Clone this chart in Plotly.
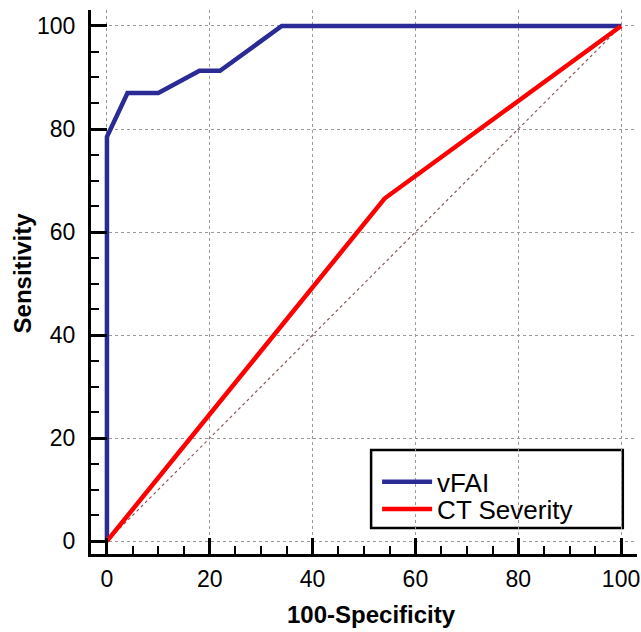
import plotly.graph_objects as go

# Data
vfai_x = [0, 0, 4, 10, 18, 22, 34, 100]
vfai_y = [0, 78.5, 87.0, 87.0, 91.3, 91.3, 100, 100]
ct_x = [0, 54, 100]
ct_y = [0, 66.5, 100]
ref_x = [0, 100]
ref_y = [0, 100]
ticks = [0, 20, 40, 60, 80, 100]
x_title = "100-Specificity"
y_title = "Sensitivity"

fig = go.Figure()
fig.add_trace(go.Scatter(x=ref_x, y=ref_y, mode="lines",
                         line=dict(color="#8a5a5a", width=1.2, dash="dot"),
                         showlegend=False, hoverinfo="skip"))
fig.add_trace(go.Scatter(x=vfai_x, y=vfai_y, mode="lines", name="vFAI",
                         line=dict(color="#2b2b96", width=4.5), legend="legend"))
fig.add_trace(go.Scatter(x=ct_x, y=ct_y, mode="lines", name="CT Severity",
                         line=dict(color="#ff0000", width=4.5), legend="legend2"))

FONT = "Liberation Sans, Arial"
axis_common = dict(
    tickvals=ticks, ticks="inside", ticklen=16, tickwidth=2.5, tickcolor="black",
    showline=True, linecolor="black", linewidth=3,
    showgrid=True, gridcolor="#9a9a9a", griddash="dot", gridwidth=1,
    zeroline=False, automargin=False,
    tickfont=dict(family=FONT, size=23, color="black"),
    minor=dict(dtick=5, ticks="inside", ticklen=8, tickwidth=1.5, tickcolor="black", showgrid=False),
)

fig.update_xaxes(**axis_common, range=[-3.1, 103.1], ticklabelstandoff=2)
fig.update_yaxes(**axis_common, range=[-2.5, 103.1], ticklabelstandoff=8)

# axis titles
fig.add_annotation(text="<b>" + x_title + "</b>", xref="paper", yref="paper",
                   x=0.5137, y=-0.1103, xanchor="center", yanchor="middle", showarrow=False,
                   font=dict(family=FONT, size=24, color="black"))
fig.add_annotation(text="<b>" + y_title + "</b>", xref="paper", yref="paper",
                   x=-0.1264, y=0.5175, xanchor="center", yanchor="middle", showarrow=False,
                   textangle=-90, font=dict(family=FONT, size=24, color="black"))

# legend frame
fig.add_shape(type="rect", xref="paper", yref="paper",
              x0=0.513, x1=0.974, y0=0.048, y1=0.191,
              line=dict(color="black", width=2.5), fillcolor="white", layer="below")

leg_common = dict(xanchor="left", yanchor="middle", borderwidth=0, bgcolor="rgba(0,0,0,0)",
                  font=dict(family=FONT, size=26, color="black"), itemwidth=50)
fig.update_layout(
    width=641, height=632,
    margin=dict(l=91, r=4, t=10, b=78),
    plot_bgcolor="white", paper_bgcolor="white",
    legend=dict(x=0.524, y=0.1324, **leg_common),
    legend2=dict(x=0.524, y=0.0827, **leg_common),
)

fig.write_html("out.html", config={"displayModeBar": False},
               post_script="document.body.style.margin='0';document.body.style.overflow='hidden';")
